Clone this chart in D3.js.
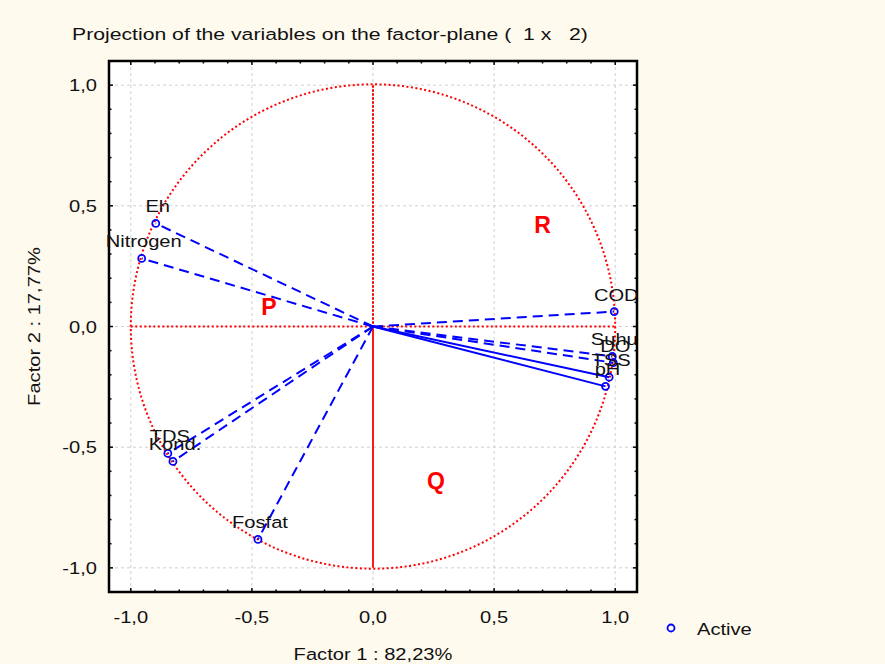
<!DOCTYPE html>
<html>
<head>
<meta charset="utf-8">
<script src="https://cdn.jsdelivr.net/npm/d3@7"></script>
<style>
  body { margin: 0; background: #fffaee; }
  svg { display: block; font-family: Arial, "Liberation Sans", sans-serif; }
</style>
</head>
<body>
<div id="chart"></div>
<script>
var variables = ['Eh', 'Nitrogen', 'COD', 'Suhu', 'DO', 'TSS', 'pH', 'TDS', 'Kond.', 'Fosfat'];
var factor1 = [-0.897, -0.955, 0.996, 0.988, 0.992, 0.975, 0.960, -0.847, -0.826, -0.475];
var factor2 = [0.427, 0.282, 0.062, -0.124, -0.150, -0.210, -0.248, -0.526, -0.559, -0.882];
var tickValues = [-1, -0.5, 0, 0.5, 1];
var regionLabels = ['P', 'Q', 'R'];
var regionX = [-0.43, 0.26, 0.70];
var regionY = [0.08, -0.64, 0.42];
var solidLines = ['TSS', 'pH'];

var w = 885, h = 664;
var svg = d3.select('#chart').append('svg')
    .attr('width', w).attr('height', h);

svg.append('rect').attr('width', w).attr('height', h).attr('fill', '#fffaee');

var pLeft = 109, pRight = 637, pTop = 61, pBottom = 592;
var x = d3.scaleLinear().domain([-1.09, 1.09]).range([pLeft, pRight]);
var y = d3.scaleLinear().domain([-1.1, 1.1]).range([pBottom, pTop]);

// the source font is drawn wider than Arial, stretch it a bit
var STRETCH = 1.22;
function label(g, tx, ty, str, anchor, rot, sx) {
    return g.append('text')
        .attr('transform', 'translate(' + tx + ',' + ty + ')' + (rot ? ' rotate(' + rot + ')' : '') + ' scale(' + (sx || STRETCH) + ',1)')
        .attr('text-anchor', anchor || 'start')
        .attr('font-size', 16.5).attr('fill', '#111')
        .style('white-space', 'pre')
        .text(str);
}

svg.append('rect')
    .attr('x', pLeft).attr('y', pTop)
    .attr('width', pRight - pLeft).attr('height', pBottom - pTop)
    .attr('fill', '#fff');

// grid
var grid = svg.append('g').attr('stroke', '#cfcfcf').attr('stroke-dasharray', '3,3').attr('stroke-width', 1);
tickValues.forEach(function (t) {
    grid.append('line').attr('x1', x(t)).attr('x2', x(t)).attr('y1', pTop).attr('y2', pBottom);
    grid.append('line').attr('y1', y(t)).attr('y2', y(t)).attr('x1', pLeft).attr('x2', pRight);
});

// unit circle + cross
var red = '#ff0000';
svg.append('circle')
    .attr('cx', x(0)).attr('cy', y(0))
    .attr('r', x(1) - x(0))
    .attr('fill', 'none').attr('stroke', red)
    .attr('stroke-width', 2).attr('stroke-dasharray', '2,2.5');
svg.append('line')
    .attr('x1', x(-1)).attr('x2', x(1)).attr('y1', y(0)).attr('y2', y(0))
    .attr('stroke', red).attr('stroke-width', 2).attr('stroke-dasharray', '2,2.5');
svg.append('line')
    .attr('x1', x(0)).attr('x2', x(0)).attr('y1', y(1)).attr('y2', y(0))
    .attr('stroke', red).attr('stroke-width', 2).attr('stroke-dasharray', '2.5,1.5');
svg.append('line')
    .attr('x1', x(0)).attr('x2', x(0)).attr('y1', y(0)).attr('y2', y(-1))
    .attr('stroke', red).attr('stroke-width', 1.8);

// axes (ticks inside, all four sides)
var minor = d3.range(-10, 11).map(function (i) { return i / 10; });
var frame = svg.append('g').attr('stroke', '#000').attr('stroke-width', 1.5);
minor.forEach(function (t) {
    var len = (Math.abs(Math.round(t * 10)) % 5 === 0) ? 4 : 2.5;
    frame.append('line').attr('x1', x(t)).attr('x2', x(t)).attr('y1', pBottom).attr('y2', pBottom - len);
    frame.append('line').attr('x1', x(t)).attr('x2', x(t)).attr('y1', pTop).attr('y2', pTop + len);
    frame.append('line').attr('y1', y(t)).attr('y2', y(t)).attr('x1', pLeft).attr('x2', pLeft + len);
    frame.append('line').attr('y1', y(t)).attr('y2', y(t)).attr('x1', pRight).attr('x2', pRight - len);
});
svg.append('rect')
    .attr('x', pLeft).attr('y', pTop)
    .attr('width', pRight - pLeft).attr('height', pBottom - pTop)
    .attr('fill', 'none').attr('stroke', '#000').attr('stroke-width', 2.5);

var fmt = function (t) { return d3.format('.1f')(t).replace('.', ',').replace('−', '-'); };
var tl = svg.append('g');
tickValues.forEach(function (t) {
    label(tl, x(t), 623, fmt(t), 'middle');
    label(tl, 97, y(t) + 6, fmt(t), 'end');
});

// title & axis titles
label(svg, 72, 40, 'Projection of the variables on the factor-plane (  1 x   2)', 'start', 0, 1.285);
label(svg, x(0), 660, 'Factor 1 : 82,23%', 'middle');
label(svg, 40, y(0), 'Factor 2 : 17,77%', 'middle', -90);

// vectors
var blue = '#0000ff';
var pts = variables.map(function (v, i) {
    return { id: v, f1: factor1[i], f2: factor2[i] };
});
svg.append('g').selectAll('line').data(pts).enter().append('line')
    .attr('x1', x(0)).attr('y1', y(0))
    .attr('x2', function (d) { return x(d.f1); })
    .attr('y2', function (d) { return y(d.f2); })
    .attr('stroke', blue).attr('stroke-width', 2)
    .attr('stroke-dasharray', function (d) {
        return solidLines.indexOf(d.id) >= 0 ? null : '10,6';
    });
svg.append('g').selectAll('circle').data(pts).enter().append('circle')
    .attr('cx', function (d) { return x(d.f1); })
    .attr('cy', function (d) { return y(d.f2); })
    .attr('r', 3.5)
    .attr('fill', 'none').attr('stroke', blue).attr('stroke-width', 1.8);
var pl = svg.append('g');
pts.forEach(function (d) {
    label(pl, x(d.f1) + 2, y(d.f2) - 11, d.id, 'middle');
});

// region letters
svg.append('g').selectAll('text').data(regionLabels).enter().append('text')
    .attr('x', function (d, i) { return x(regionX[i]); })
    .attr('y', function (d, i) { return y(regionY[i]) + 8; })
    .attr('text-anchor', 'middle').attr('font-size', 23).attr('font-weight', 'bold')
    .attr('fill', red)
    .text(function (d) { return d; });

// legend
svg.append('circle')
    .attr('cx', 671).attr('cy', 628).attr('r', 3.5)
    .attr('fill', 'none').attr('stroke', blue).attr('stroke-width', 1.8);
label(svg, 697, 635, 'Active');
</script>
</body>
</html>
